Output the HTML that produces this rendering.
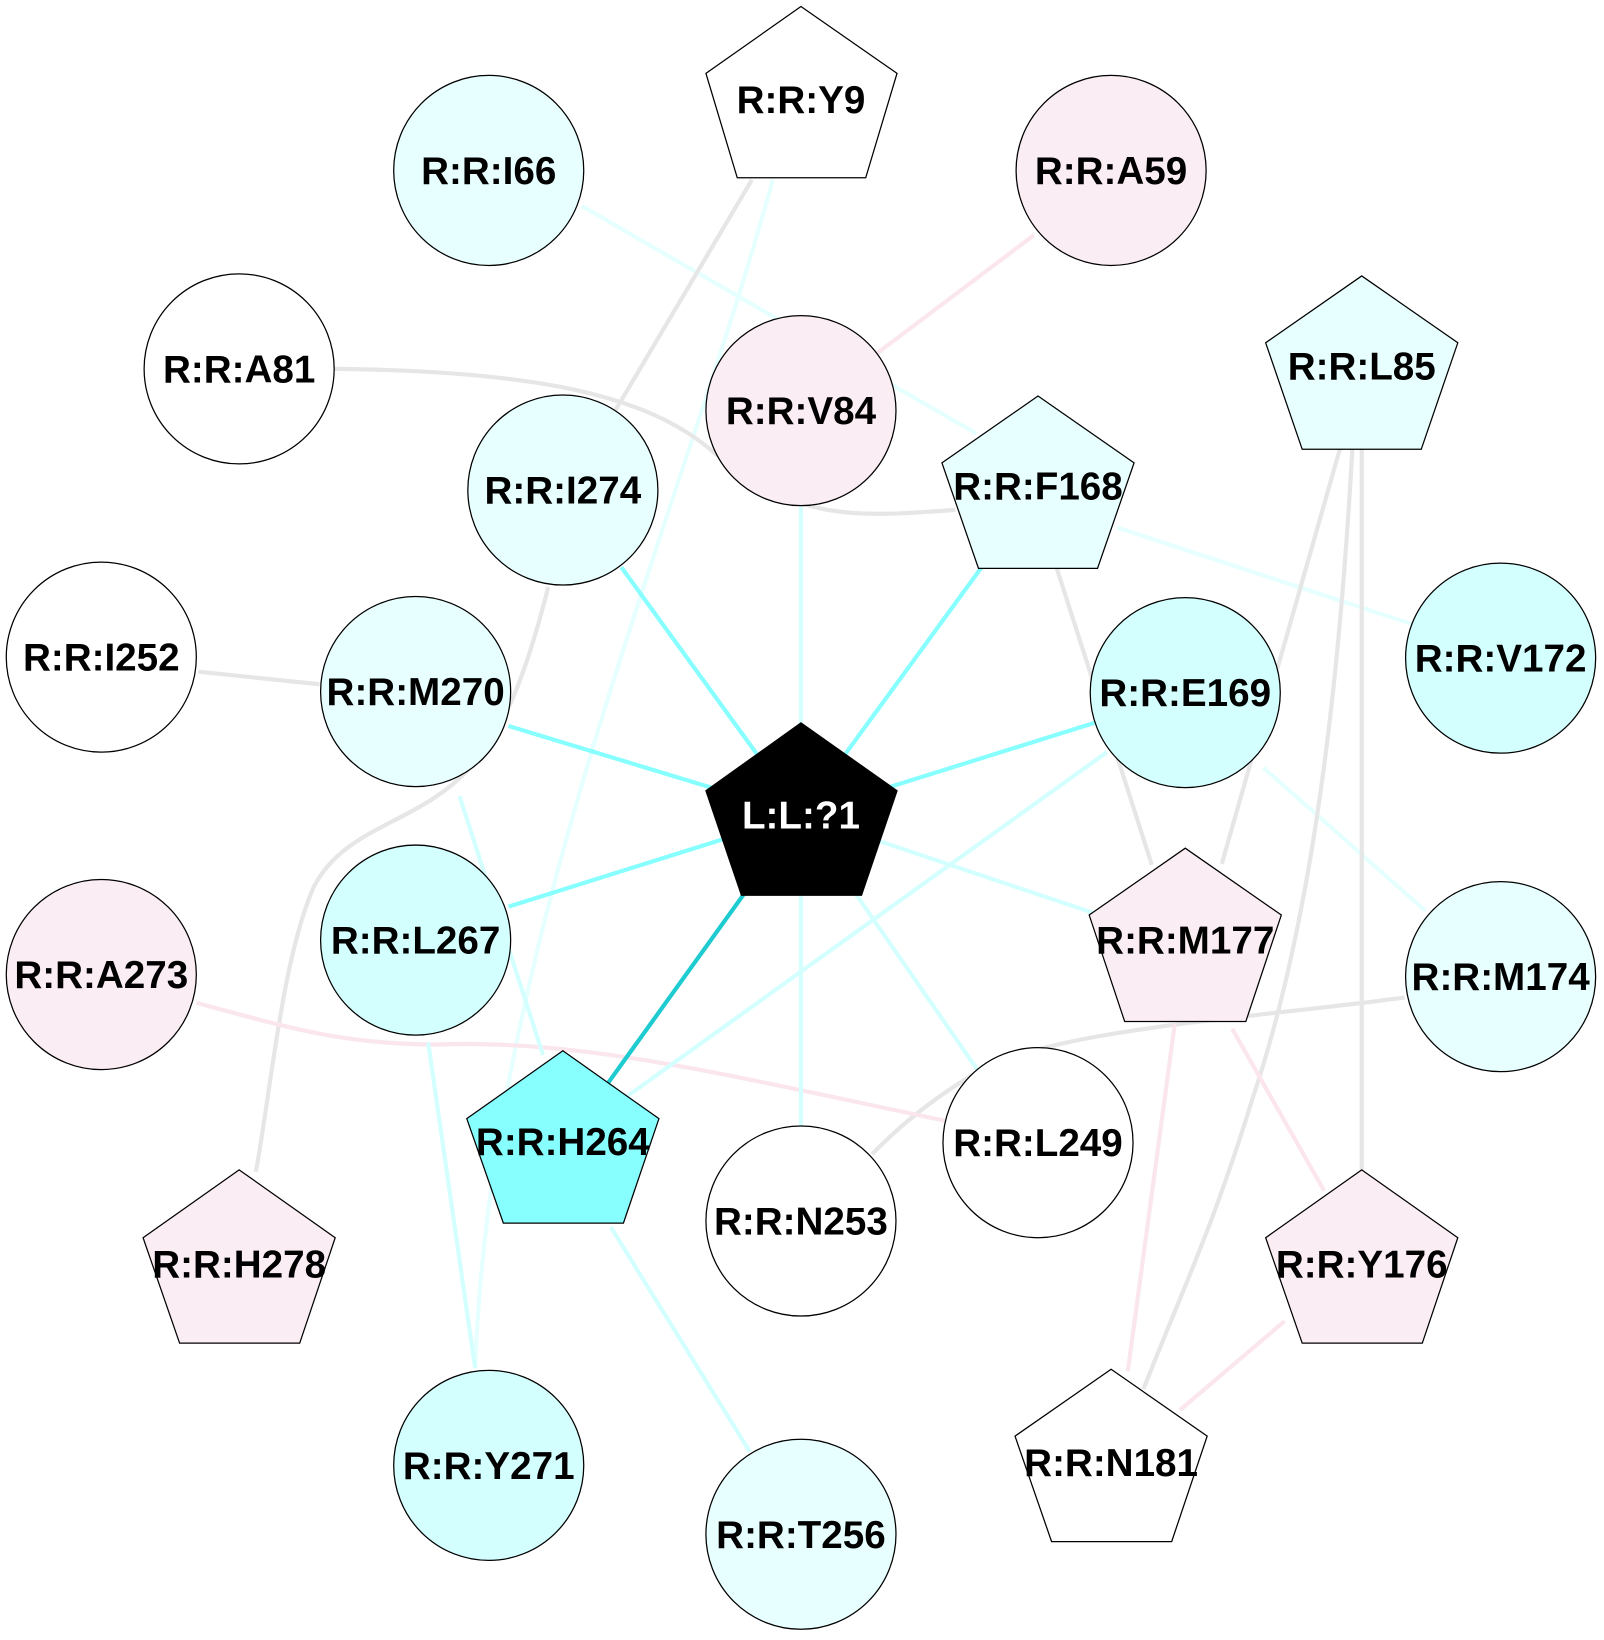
<!DOCTYPE html>
<html><head><meta charset="utf-8"><style>html,body{margin:0;padding:0;background:#fff}svg{display:block}</style></head>
<body>
<svg width="1604" height="1640" viewBox="0 0 1536 1570" xmlns="http://www.w3.org/2000/svg">
<g fill="none" stroke-width="4">
<path d="M557,197 L935,415" stroke="#e6ffff"/>
<path d="M1070,505 L1360,600" stroke="#e6ffff"/>
<path d="M740,172 C650,500 470,900 455,1310" stroke="#e6ffff"/>
<path d="M1210,735 L1365,872" stroke="#e6ffff"/>
<path d="M720,172 L585,400" stroke="#e6e6e6"/>
<path d="M320,353 C520,355 620,380 680,430 C760,500 820,495 915,488" stroke="#e6e6e6"/>
<path d="M525,562 C500,660 480,700 450,735 C400,790 330,790 300,850 C270,920 260,1040 245,1122" stroke="#e6e6e6"/>
<path d="M190,643 L306,655" stroke="#e6e6e6"/>
<path d="M1012,544 L1103,828" stroke="#e6e6e6"/>
<path d="M1283,430 L1170,827" stroke="#e6e6e6"/>
<path d="M1295,430 C1280,700 1250,900 1200,1050 C1160,1180 1130,1240 1095,1330" stroke="#e6e6e6"/>
<path d="M1304,430 L1304,1120" stroke="#e6e6e6"/>
<path d="M1345,955 C1200,975 1000,985 930,1030 C880,1060 850,1090 835,1105" stroke="#e6e6e6"/>
<path d="M840,338 L990,225" stroke="#fbe6ee"/>
<path d="M188,960 C280,985 330,1000 420,1000 C560,995 700,1030 905,1073" stroke="#fbe6ee"/>
<path d="M1180,985 L1268,1140" stroke="#fbe6ee"/>
<path d="M1125,980 L1080,1313" stroke="#fbe6ee"/>
<path d="M1230,1265 L1130,1350" stroke="#fbe6ee"/>
<path d="M440,762 L520,1010" stroke="#d4ffff"/>
<path d="M410,998 L455,1310" stroke="#d4ffff"/>
<path d="M1060,720 L600,1050" stroke="#d4ffff"/>
<path d="M585,1175 L718,1390" stroke="#d4ffff"/>
<path d="M767,485 L767,780" stroke="#d4ffff"/>
<path d="M767,780 L1050,875" stroke="#d4ffff"/>
<path d="M767,780 L940,1030" stroke="#d4ffff"/>
<path d="M767,780 L767,1078" stroke="#d4ffff"/>
<path d="M767,780 L595,543" stroke="#88ffff"/>
<path d="M767,780 L940,543" stroke="#88ffff"/>
<path d="M767,780 L487,695" stroke="#88ffff"/>
<path d="M767,780 L1048,692" stroke="#88ffff"/>
<path d="M767,780 L487,868" stroke="#88ffff"/>
<path d="M767,780 L580,1040" stroke="#1ecbd0"/>
</g>
<g stroke="#000" stroke-width="1.2">
<circle cx="468" cy="163" r="91" fill="#e8ffff"/>
<circle cx="1064" cy="163" r="91" fill="#fbedf4"/>
<circle cx="229" cy="353" r="91" fill="#fff"/>
<circle cx="767" cy="393" r="91" fill="#fbedf4"/>
<circle cx="539" cy="469" r="91" fill="#e8ffff"/>
<circle cx="97" cy="629" r="91" fill="#fff"/>
<circle cx="398" cy="662" r="91" fill="#e8ffff"/>
<circle cx="1135" cy="663" r="91" fill="#d4ffff"/>
<circle cx="1437" cy="630" r="91" fill="#d4ffff"/>
<circle cx="398" cy="900" r="91" fill="#d4ffff"/>
<circle cx="97" cy="933" r="91" fill="#fbedf4"/>
<circle cx="1437" cy="935" r="91" fill="#e8ffff"/>
<circle cx="994" cy="1094" r="91" fill="#fff"/>
<circle cx="767" cy="1169" r="91" fill="#fff"/>
<circle cx="468" cy="1403" r="91" fill="#d4ffff"/>
<circle cx="767" cy="1469" r="91" fill="#e8ffff"/>
<polygon points="767,6 859,70 829,170 706,170 676,70" fill="#fff"/>
<polygon points="1304,264 1396,328 1361,430 1247,430 1212,328" fill="#e8ffff"/>
<polygon points="994,379 1086,443 1051,544 937,544 902,443" fill="#e8ffff"/>
<polygon points="767,692 859,757 825,857 710,857 676,757" fill="#000"/>
<polygon points="1135,812 1227,876 1193,978 1077,978 1043,876" fill="#fbedf4"/>
<polygon points="539,1006 631,1071 597,1171 482,1171 447,1071" fill="#88ffff"/>
<polygon points="229,1120 321,1185 287,1286 172,1286 137,1185" fill="#fbedf4"/>
<polygon points="1304,1120 1396,1185 1362,1286 1247,1286 1212,1185" fill="#fbedf4"/>
<polygon points="1064,1311 1156,1375 1122,1476 1007,1476 972,1375" fill="#fff"/>
</g>
<g font-family="Liberation Sans, Arial, sans-serif" font-weight="bold" font-size="37" text-anchor="middle" fill="#000">
<text x="468" y="176">R:R:I66</text>
<text x="767" y="108">R:R:Y9</text>
<text x="1064" y="176">R:R:A59</text>
<text x="229" y="366">R:R:A81</text>
<text x="1304" y="363">R:R:L85</text>
<text x="767" y="406">R:R:V84</text>
<text x="539" y="482">R:R:I274</text>
<text x="994" y="478">R:R:F168</text>
<text x="97" y="642">R:R:I252</text>
<text x="398" y="675">R:R:M270</text>
<text x="1135" y="676">R:R:E169</text>
<text x="1437" y="643">R:R:V172</text>
<text x="767" y="793" fill="#fff">L:L:?1</text>
<text x="398" y="913">R:R:L267</text>
<text x="1135" y="913">R:R:M177</text>
<text x="97" y="946">R:R:A273</text>
<text x="1437" y="948">R:R:M174</text>
<text x="539" y="1106">R:R:H264</text>
<text x="994" y="1107">R:R:L249</text>
<text x="767" y="1182">R:R:N253</text>
<text x="229" y="1223">R:R:H278</text>
<text x="1304" y="1223">R:R:Y176</text>
<text x="468" y="1416">R:R:Y271</text>
<text x="1064" y="1413">R:R:N181</text>
<text x="767" y="1482">R:R:T256</text>
</g>
</svg>
</body></html>
